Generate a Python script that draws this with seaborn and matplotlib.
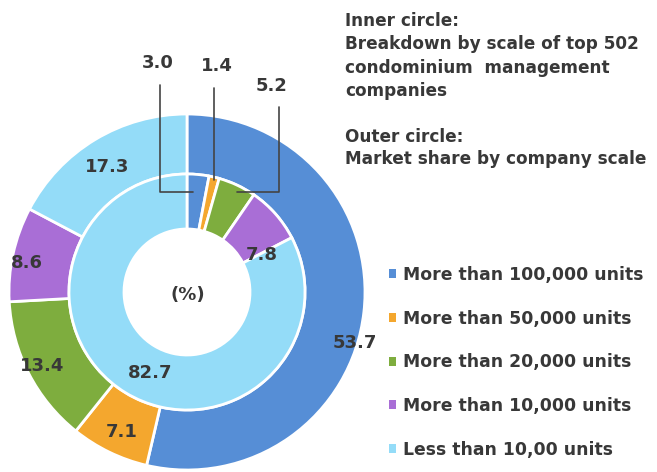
import matplotlib
matplotlib.use("Agg")
import matplotlib.pyplot as plt
import seaborn as sns

# ---- data ----
categories = ["More than 100,000 units", "More than 50,000 units",
              "More than 20,000 units", "More than 10,000 units",
              "Less than 10,00 units"]
outer_share = [53.7, 7.1, 13.4, 8.6, 17.3]   # market share by company scale
inner_share = [3.0, 1.4, 5.2, 7.8, 82.7]     # breakdown of top 502 companies
colors = ["#568ED6", "#F4A72E", "#7EAD3E", "#A96ED6", "#94DCF8"]

# ---- layout (pixel based) ----
W, H, DPI = 657, 472, 100
cx, cy, R = 187, 292, 178

sns.set_theme(style="white")
plt.rcParams["font.family"] = ["DejaVu Sans"]
txt_color = "#383838"

fig = plt.figure(figsize=(W / DPI, H / DPI), dpi=DPI)
ax = fig.add_axes([(cx - R) / W, (H - cy - R) / H, 2 * R / W, 2 * R / H])

outer_w = 60 / R
inner_r = 118 / R
inner_w = 55 / R
wp = dict(edgecolor="white", linewidth=2)

wedges_out, _ = ax.pie(outer_share, colors=colors, radius=1.0, startangle=90,
                       counterclock=False, wedgeprops=dict(width=outer_w, **wp))
wedges_in, _ = ax.pie(inner_share, colors=colors, radius=inner_r, startangle=90,
                      counterclock=False, wedgeprops=dict(width=inner_w, **wp))
ax.set_xlim(-1, 1)
ax.set_ylim(-1, 1)
ax.set_aspect("equal")
ax.axis("off")

def d(px, py):
    return ((px - cx) / R, (cy - py) / R)

lab_kw = dict(ha="center", va="center", fontsize=13, fontweight="bold",
              color=txt_color)
outer_pos = [(355, 343), (122, 432), (42, 366), (27, 263), (107, 167)]
for v, p in zip(outer_share, outer_pos):
    ax.text(*d(*p), f"{v:.1f}", **lab_kw)

inner_pos = [(158, 63), (217, 66), (272, 86), (262, 255), (150, 373)]
for v, p in zip(inner_share, inner_pos):
    ax.text(*d(*p), f"{v:.1f}", **lab_kw)

ax.text(*d(188, 295), "(%)", **lab_kw)

# leader lines for small inner slices
leaders = [
    [(160, 85), (160, 192), (193, 192)],
    [(214, 88), (214, 180)],
    [(237, 192), (279, 192), (279, 107)],
]
for pts in leaders:
    xs, ys = zip(*[d(*p) for p in pts])
    ax.plot(xs, ys, color="#444444", lw=1.2, clip_on=False)

# description text
desc = ["Inner circle:", "Breakdown by scale of top 502",
        "condominium  management", "companies"]
for i, s in enumerate(desc):
    fig.text(345 / W, 1 - (21 + i * 23.3) / H, s, fontsize=12.2,
             fontweight="bold", color=txt_color, va="center", ha="left")
desc2 = ["Outer circle:", "Market share by company scale"]
for i, s in enumerate(desc2):
    fig.text(345 / W, 1 - (137 + i * 22) / H, s, fontsize=12.2,
             fontweight="bold", color=txt_color, va="center", ha="left")

leg = fig.legend(wedges_out, categories, loc="upper left",
                 bbox_to_anchor=(389 / W, 1 - 266 / H), frameon=False,
                 handlelength=0.4, handleheight=0.4, handletextpad=0.4,
                 labelspacing=1.49, borderpad=0, borderaxespad=0,
                 prop=dict(size=12.4, weight="bold"))
for t in leg.get_texts():
    t.set_color(txt_color)
for h in leg.legend_handles:
    h.set_edgecolor("none")

fig.savefig("out.png", dpi=DPI)
